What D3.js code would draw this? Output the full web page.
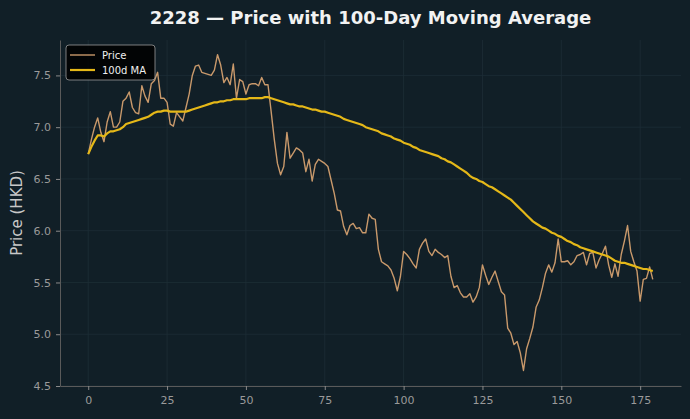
<!DOCTYPE html>
<html>
<head>
<meta charset="utf-8">
<script src="https://cdn.jsdelivr.net/npm/d3@7"></script>
<style>
  html, body { margin: 0; padding: 0; background: #111f27; }
  svg { display: block; font-family: "DejaVu Sans", sans-serif; }
</style>
</head>
<body>
<div id="chart"></div>
<script>
// price
const price = [
  6.74, 6.88, 7.00, 7.09, 6.95, 6.86, 7.05, 7.15, 7.00, 7.00,
  7.05, 7.25, 7.28, 7.34, 7.19, 7.14, 7.13, 7.40, 7.30, 7.24,
  7.42, 7.45, 7.53, 7.28, 7.28, 7.24, 7.03, 7.01, 7.14, 7.10,
  7.06, 7.19, 7.32, 7.50, 7.59, 7.60, 7.53, 7.52, 7.51, 7.50,
  7.55, 7.70, 7.60, 7.43, 7.48, 7.41, 7.61, 7.28, 7.46, 7.44,
  7.32, 7.41, 7.42, 7.42, 7.40, 7.48, 7.41, 7.41, 7.15, 6.88,
  6.65, 6.54, 6.62, 6.95, 6.70, 6.75, 6.80, 6.78, 6.75, 6.57,
  6.69, 6.48, 6.64, 6.69, 6.67, 6.65, 6.62, 6.49, 6.36, 6.20,
  6.19, 6.04, 5.96, 6.05, 6.07, 6.02, 6.03, 5.98, 5.98, 6.16,
  6.12, 6.11, 5.82, 5.70, 5.68, 5.66, 5.62, 5.54, 5.42, 5.56,
  5.80, 5.77, 5.73, 5.68, 5.64, 5.82, 5.88, 5.92, 5.80, 5.76,
  5.82, 5.79, 5.77, 5.74, 5.76, 5.56, 5.45, 5.47, 5.40, 5.36,
  5.36, 5.39, 5.31, 5.36, 5.45, 5.67, 5.57, 5.48, 5.55, 5.61,
  5.51, 5.41, 5.38, 5.06, 5.01, 4.90, 4.93, 4.82, 4.65, 4.86,
  4.96, 5.07, 5.26, 5.33, 5.45, 5.59, 5.67, 5.60, 5.69, 5.92,
  5.70, 5.70, 5.71, 5.67, 5.70, 5.76, 5.77, 5.79, 5.67, 5.78,
  5.79, 5.64, 5.72, 5.78, 5.85, 5.67, 5.55, 5.68, 5.56, 5.77,
  5.90, 6.05, 5.80, 5.70, 5.61, 5.32, 5.53, 5.54, 5.65, 5.53
];

// 100-day moving average
const ma100 = [
  6.74, 6.81, 6.87, 6.92, 6.92, 6.91, 6.94, 6.96, 6.96, 6.97,
  6.98, 7.00, 7.03, 7.04, 7.05, 7.06, 7.07, 7.08, 7.09, 7.10,
  7.12, 7.14, 7.15, 7.15, 7.16, 7.16, 7.15, 7.15, 7.15, 7.15,
  7.15, 7.15, 7.16, 7.17, 7.18, 7.19, 7.20, 7.21, 7.22, 7.23,
  7.24, 7.24, 7.25, 7.25, 7.26, 7.26, 7.27, 7.27, 7.27, 7.27,
  7.27, 7.28, 7.28, 7.28, 7.28, 7.28, 7.29, 7.29, 7.28, 7.27,
  7.26, 7.25, 7.24, 7.23, 7.22, 7.22, 7.21, 7.20, 7.20, 7.19,
  7.18, 7.17, 7.17, 7.16, 7.15, 7.15, 7.14, 7.13, 7.12, 7.11,
  7.10, 7.08, 7.07, 7.06, 7.05, 7.04, 7.03, 7.02, 7.00, 6.99,
  6.98, 6.97, 6.96, 6.94, 6.93, 6.92, 6.91, 6.89, 6.88, 6.87,
  6.85, 6.84, 6.83, 6.81, 6.80, 6.78, 6.77, 6.76, 6.75, 6.74,
  6.73, 6.72, 6.70, 6.69, 6.67, 6.66, 6.64, 6.62, 6.60, 6.58,
  6.56, 6.53, 6.51, 6.50, 6.48, 6.47, 6.45, 6.43, 6.42, 6.40,
  6.38, 6.36, 6.34, 6.32, 6.30, 6.27, 6.24, 6.21, 6.18, 6.15,
  6.12, 6.09, 6.07, 6.05, 6.03, 6.02, 6.00, 5.98, 5.97, 5.95,
  5.94, 5.92, 5.90, 5.89, 5.87, 5.86, 5.84, 5.83, 5.82, 5.81,
  5.80, 5.79, 5.78, 5.77, 5.76, 5.75, 5.73, 5.71, 5.70, 5.69,
  5.69, 5.68, 5.67, 5.66, 5.65, 5.64, 5.63, 5.63, 5.62, 5.61
];

const xTicks = [0, 25, 50, 75, 100, 125, 150, 175];
const yTicks = [4.5, 5.0, 5.5, 6.0, 6.5, 7.0, 7.5];
const seriesNames = ["Price", "100d MA"];

const width = 690, height = 419;
const margin = { top: 40, right: 9, bottom: 33, left: 60 };
const innerW = width - margin.left - margin.right;
const innerH = height - margin.top - margin.bottom;

const svg = d3.select("#chart").append("svg")
  .attr("width", width)
  .attr("height", height);

svg.append("rect").attr("width", width).attr("height", height).attr("fill", "#111f27");

const g = svg.append("g").attr("transform", `translate(${margin.left},${margin.top})`);

// matplotlib style 5% margins
const n = price.length;
const pad = (n - 1) * 0.05;
const x = d3.scaleLinear().domain([-pad, n - 1 + pad]).range([0, innerW]);
const y = d3.scaleLinear().domain([4.5, 7.842]).range([innerH, 0]);

// grid
g.append("g").selectAll("line").data(xTicks).join("line")
  .attr("x1", d => x(d)).attr("x2", d => x(d))
  .attr("y1", 0).attr("y2", innerH)
  .attr("stroke", "#1d2d36").attr("stroke-width", 0.8);
g.append("g").selectAll("line").data(yTicks).join("line")
  .attr("x1", 0).attr("x2", innerW)
  .attr("y1", d => y(d)).attr("y2", d => y(d))
  .attr("stroke", "#1d2d36").attr("stroke-width", 0.8);

// axes
const xAxis = g.append("g")
  .attr("transform", `translate(0,${innerH})`)
  .call(d3.axisBottom(x).tickValues(xTicks).tickSize(4).tickPadding(6).tickSizeOuter(0));
const yAxis = g.append("g")
  .call(d3.axisLeft(y).tickValues(yTicks).tickFormat(d3.format(".1f")).tickSize(4).tickPadding(5).tickSizeOuter(0));

[xAxis, yAxis].forEach(a => {
  a.select(".domain").attr("stroke", "#5a5a5a").attr("stroke-width", 1);
  a.selectAll(".tick line").attr("stroke", "#8a8a8a");
  a.selectAll(".tick text").attr("fill", "#9a9a9a").attr("font-size", 11)
    .attr("font-family", "DejaVu Sans, sans-serif");
});

// lines
const line = d3.line().x((d, i) => x(i)).y(d => y(d));

g.append("path").datum(price)
  .attr("fill", "none")
  .attr("stroke", "#c9996b")
  .attr("stroke-width", 1.4)
  .attr("stroke-linejoin", "round")
  .attr("d", line);

g.append("path").datum(ma100)
  .attr("fill", "none")
  .attr("stroke", "#e5b818")
  .attr("stroke-width", 2.2)
  .attr("stroke-linejoin", "round")
  .attr("d", line);

// title + y label
svg.append("text")
  .attr("x", margin.left + innerW / 2).attr("y", 24)
  .attr("text-anchor", "middle")
  .attr("fill", "#f2f2f2")
  .attr("font-size", 18).attr("font-weight", "bold")
  .text("2228 — Price with 100-Day Moving Average");

svg.append("text")
  .attr("transform", `translate(22,${margin.top + innerH / 2}) rotate(-90)`)
  .attr("text-anchor", "middle")
  .attr("fill", "#c8c8c8")
  .attr("font-size", 15)
  .text("Price (HKD)");

// legend
const legend = g.append("g").attr("transform", "translate(6,5)");
legend.append("rect")
  .attr("width", 89).attr("height", 35).attr("rx", 3)
  .attr("fill", "#000").attr("fill-opacity", 0.85)
  .attr("stroke", "#9a9a9a").attr("stroke-width", 0.8);
const colors = ["#c9996b", "#e5b818"];
const widths = [1.4, 2.2];
seriesNames.forEach((name, i) => {
  const ly = 10 + i * 15;
  legend.append("line")
    .attr("x1", 4).attr("x2", 29).attr("y1", ly).attr("y2", ly)
    .attr("stroke", colors[i]).attr("stroke-width", widths[i]);
  legend.append("text")
    .attr("x", 36).attr("y", ly + 3.5)
    .attr("fill", "#f0f0f0").attr("font-size", 10)
    .text(name);
});
</script>
</body>
</html>
